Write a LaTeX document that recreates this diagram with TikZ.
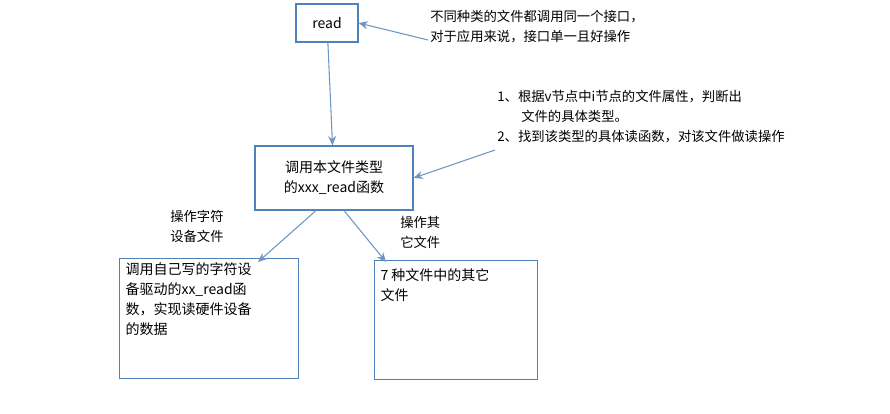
\documentclass[tikz,border=0pt]{standalone}
\usepackage{fontspec}
\setmainfont{DejaVu Sans}
\newfontfamily\cjk{Noto Sans CJK SC}
\usetikzlibrary{arrows.meta,positioning}
\definecolor{boxline}{RGB}{79,129,189}
\definecolor{arrline}{RGB}{110,150,195}
\tikzset{
  box/.style={draw=boxline,thick,align=left,inner sep=0pt,font=\cjk\fontsize{10.5}{15}\selectfont},
  flow/.style={-{Stealth[length=7pt,width=6pt]},arrline,thick},
  note/.style={align=left,font=\cjk\fontsize{10}{15}\selectfont,inner sep=0pt}
}
\begin{document}
\begin{tikzpicture}[x=0.75pt,y=-0.75pt]
    \useasboundingbox (0,0) rectangle (890,414);
    % Boxes
    \node[box,minimum width=46.5pt,minimum height=28.5pt] (read) at (327,23) {read};
    \node[box,minimum width=118.5pt,minimum height=48pt,align=center] (call) at (334,178) {调用本文件类型\\的xxx\_read函数};
    \node[box,anchor=north west,inner xsep=4.5pt,inner ysep=3pt] (chr) at (119,258)
        {\parbox[t][84pt][t]{125pt}{调用自己写的字符设\\备驱动的xx\_read函\\数，实现读硬件设备\\的数据}};
    \node[box,anchor=north west,inner xsep=4.5pt,inner ysep=6pt] (other) at (374,260)
        {\parbox[t][77pt][t]{113pt}{7 种文件中的其它\\文件}};

    % Notes
    \node[note,anchor=north west] (n1) at (430,10) {不同种类的文件都调用同一个接口，\\对于应用来说，接口单一且好操作};
    \node[note,anchor=north west] (n2) at (497,90) {1、根据v节点中i节点的文件属性，判断出\\\hspace{1.8em}文件的具体类型。\\2、找到该类型的具体读函数，对该文件做读操作};
    \node[note,anchor=north west] (l1) at (170,210) {操作字符\\设备文件};
    \node[note,anchor=north west] (l2) at (400,216) {操作其\\它文件};

    % Flows
    \coordinate (p1) at (428,40);
    \coordinate (p2) at (495,150);
    \draw[flow] (read) -- (call);
    \draw[flow] (p1) -- (read.east);
    \draw[flow] (p2) -- (call.east);
    \draw[flow] (call.south) ++(-18,0) -- (258,262);
    \draw[flow] (call.south) ++(10,0) -- (386,262);
\end{tikzpicture}
\end{document}
